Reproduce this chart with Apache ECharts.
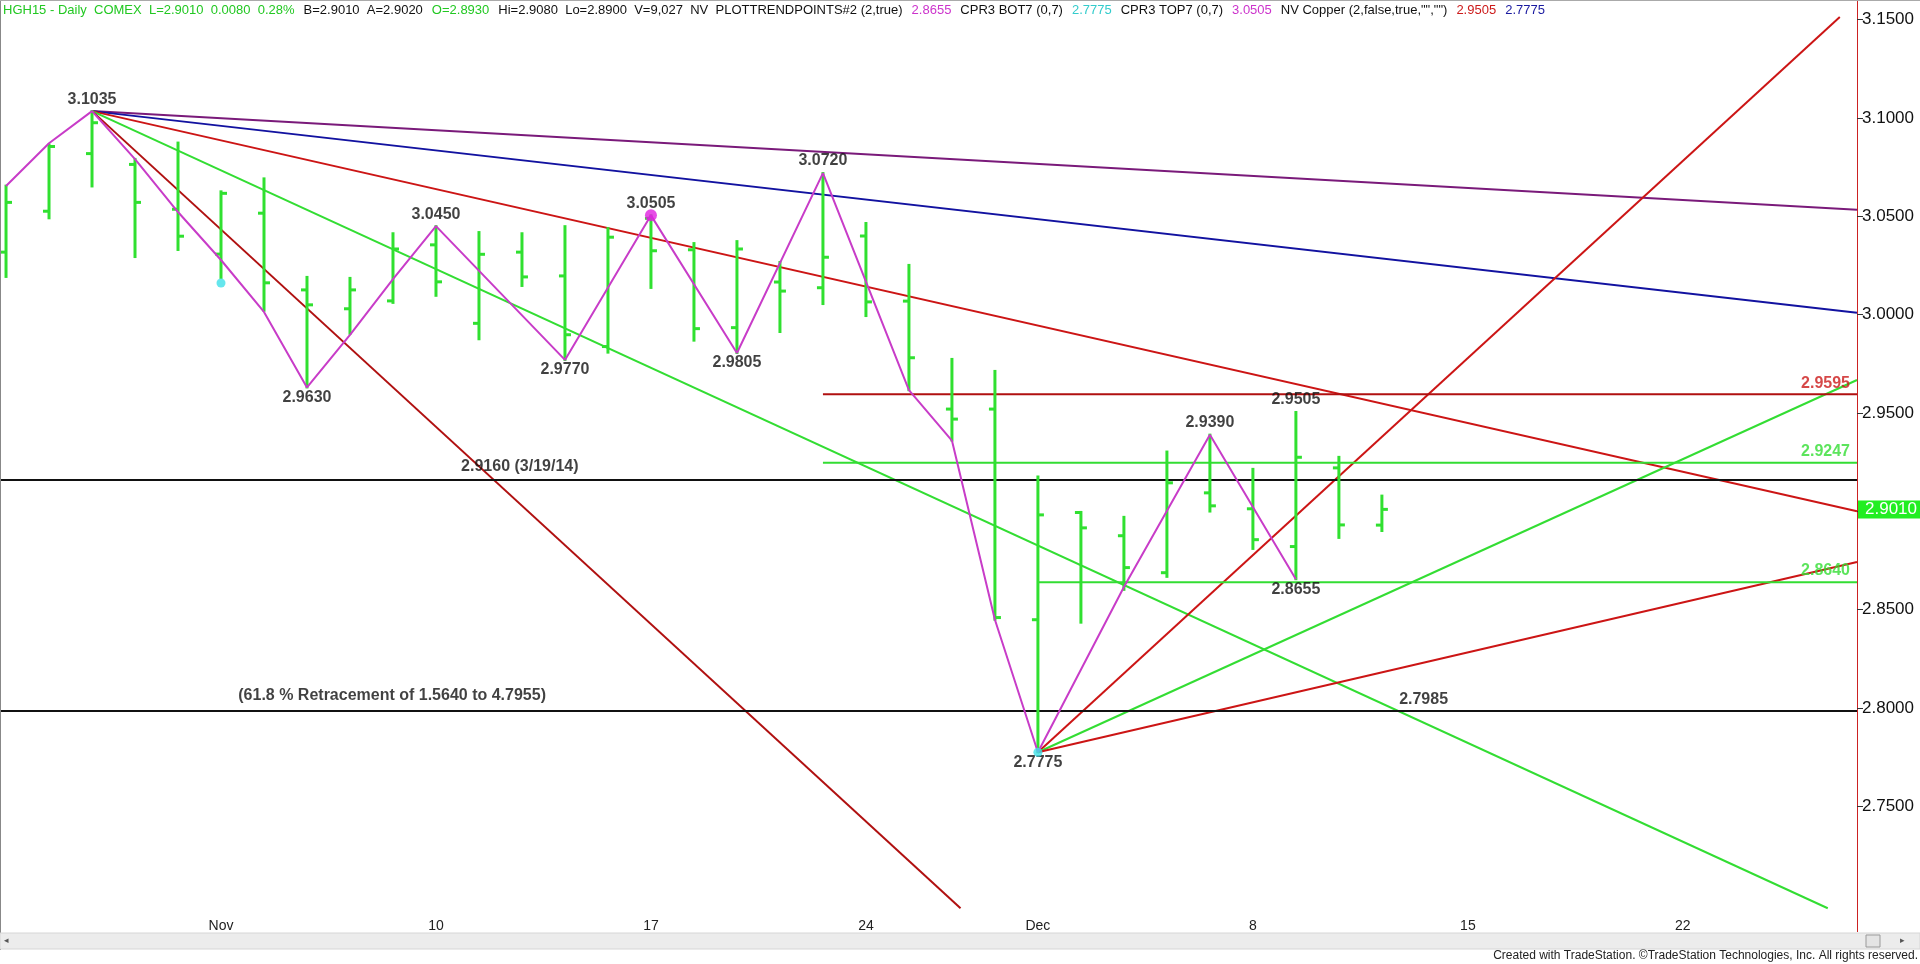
<!DOCTYPE html>
<html><head><meta charset="utf-8">
<script src="https://cdn.jsdelivr.net/npm/echarts@6/dist/echarts.min.js"></script>
<style>html,body{margin:0;padding:0;background:#fff;overflow:hidden}#c{width:1920px;height:964px}</style>
</head><body><div id="c"></div>
<script>
// ---------- data ----------
const dates = ['10/27','10/28','10/29','10/30','10/31','11/3','11/4','11/5','11/6','11/7','11/10','11/11','11/12','11/13','11/14','11/17','11/18','11/19','11/20','11/21','11/24','11/25','11/26','11/28','12/1','12/2','12/3','12/4','12/5','12/8','12/9','12/10','12/11'];
const opens  = [3.0318,3.0526,3.0819,3.0764,3.0536,3.0308,3.0516,3.0126,3.0030,3.0070,3.0355,2.9956,3.0318,3.0197,2.9838,3.0490,3.0330,2.9934,3.0166,3.0137,3.0400,3.0069,2.9520,2.9520,2.8449,2.8994,2.8876,2.8688,2.9094,2.9013,2.8821,2.9221,2.8930];
const highs  = [3.0656,3.0865,3.1035,3.0792,3.0875,3.0627,3.0693,3.0192,3.0187,3.0414,3.0450,3.0420,3.0414,3.0450,3.0440,3.0505,3.0364,3.0374,3.0268,3.0720,3.0466,3.0253,2.9775,2.9714,2.9177,2.8997,2.8972,2.9304,2.9390,2.9216,2.9505,2.9277,2.9080];
const lows   = [3.0192,3.0490,3.0652,3.0293,3.0329,3.0187,3.0020,2.9630,2.9903,3.0060,3.0096,2.9875,3.0146,2.9770,2.9807,3.0136,2.9868,2.9805,2.9912,3.0054,2.9993,2.9616,2.9360,2.8449,2.7775,2.8434,2.8601,2.8667,2.8999,2.8809,2.8655,2.8865,2.8900];
const closes = [3.0571,3.0855,3.0976,3.0571,3.0399,3.0617,3.0162,3.0050,3.0126,3.0334,3.0167,3.0307,3.0192,2.9898,3.0394,3.0325,2.9929,3.0334,3.0120,3.0292,3.0065,2.9781,2.9469,2.8460,2.8982,2.8916,2.8714,2.9145,2.9028,2.8856,2.9275,2.8931,2.9010];

const xTickIdx    = [5, 10, 15, 20, 24, 29, 34, 39];
const xTickLabels = ['Nov','10','17','24','Dec','8','15','22'];
const yTicks      = [2.75, 2.80, 2.85, 2.90, 2.95, 3.00, 3.05, 3.10, 3.15];

// zig-zag (PLOTTRENDPOINTS) path [barIndex, price]
const zigzag = [[0,3.0654],[1,3.0872],[2,3.1035],[3,3.0791],[4,3.0522],[5,3.0278],[6,3.0014],[7,2.9630],[8,2.9897],[9,3.0181],[10,3.0450],[13,2.9770],[15,3.0505],[17,2.9805],[19,3.0720],[21,2.9616],[22,2.9360],[23,2.8449],[24,2.7775],[26,2.8615],[28,2.9390],[30,2.8655]];
const swingHighs = [[2,3.1035],[10,3.0450],[15,3.0505],[19,3.0720],[28,2.9390],[30,2.9505]];
const swingLows  = [[7,2.9630],[13,2.9770],[17,2.9805],[24,2.7775],[30,2.8655]];
const cyanDots    = [[5,3.0161],[24,2.7775]];
const magentaDots = [[15,3.0505]];

// trend lines [barIndex, price]
const xLeft = -0.14, xRight = 43.05;
const purpleLine   = [[2,3.1035],[xRight,3.0533]];
const blueLine     = [[2,3.1035],[xRight,3.0010]];
const redFromTop   = [[2,3.1035],[xRight,2.9000]];
const greenFromTop = [[2,3.1035],[42.37,2.6982]];
const steepFromTop = [[2,3.1035],[22.2,2.6982]];
const redUpFromLow = [[24,2.7775],[42.65,3.1513]];
const greenFromLow = [[24,2.7775],[xRight,2.9668]];
const redLowFromLow= [[24,2.7775],[xRight,2.8742]];
// horizontal levels
const level2916 = 2.9160, level7985 = 2.7985;
const level9595 = 2.9595, level9247 = 2.9247, level8640 = 2.8640;
const levelStart9595 = 19, levelStart9247 = 19, levelStart8640 = 24;
const lastClose = 2.9010;

// header pieces [text, colour key]
const header = [
  ['HGH15 - Daily  COMEX  L=2.9010  0.0080  0.28%', 'g'],
  ['B=2.9010  A=2.9020', 'k'],
  ['O=2.8930', 'g'],
  ['Hi=2.9080  Lo=2.8900  V=9,027  NV  PLOTTRENDPOINTS#2 (2,true)', 'k'],
  ['2.8655', 'm'],
  ['CPR3 BOT7 (0,7)', 'k'],
  ['2.7775', 'c'],
  ['CPR3 TOP7 (0,7)', 'k'],
  ['3.0505', 'm'],
  ['NV Copper (2,false,true,"","")', 'k'],
  ['2.9505', 'r'],
  ['2.7775', 'b']
];

// ---------- styles ----------
const BAR = '#30e030', GREEN = '#33dd33', RED = '#cc1515', DRED = '#b01010', PINK = '#c83cc8';
const FONT = '"Liberation Sans", Arial, sans-serif';

const ohlc = dates.map((d, i) => [i, opens[i], highs[i], lows[i], closes[i]]);

function renderOHLC(params, api) {
  const x = api.value(0);
  const o = api.coord([x, api.value(1)]);
  const h = api.coord([x, api.value(2)]);
  const l = api.coord([x, api.value(3)]);
  const c = api.coord([x, api.value(4)]);
  const st = { stroke: BAR, lineWidth: 3 };
  return { type: 'group', children: [
    { type: 'line', shape: { x1: h[0], y1: h[1] - 1, x2: l[0], y2: l[1] + 1 }, style: st },
    { type: 'line', shape: { x1: o[0] - 6, y1: o[1], x2: o[0], y2: o[1] }, style: st },
    { type: 'line', shape: { x1: c[0], y1: c[1], x2: c[0] + 6, y2: c[1] }, style: st }
  ]};
}

function seg(data, color, width) {
  return { type: 'line', data: data, showSymbol: false, symbol: 'none', silent: true, clip: true,
    lineStyle: { color: color, width: width || 2 }, z: 3 };
}
function hline(start, level, color) {
  return seg([[start, level], [xRight, level]], color, 2);
}
const pivotLabel = { fontFamily: FONT, fontWeight: 'bold', fontSize: 16, color: '#111' };

const chart = echarts.init(document.getElementById('c'), null, { renderer: 'canvas' });
const option = {
  animation: false,
  backgroundColor: '#ffffff',
  grid: { left: 0, right: 63, top: 0, bottom: 54 },
  xAxis: {
    type: 'value', min: xLeft, max: xRight,
    splitLine: { show: false }, axisLine: { show: false, onZero: false }, axisTick: { show: false },
    axisLabel: { customValues: xTickIdx, margin: 9, fontFamily: '"Liberation Sans Narrow", "Liberation Sans", Arial', fontSize: 14, color: '#222',
      formatter: v => xTickLabels[xTickIdx.indexOf(Math.round(v))] }
  },
  yAxis: {
    type: 'value', position: 'right', min: 2.6973, max: 3.1600, scale: true,
    splitLine: { show: false },
    axisLine: { show: true, onZero: false, lineStyle: { color: '#cc2222', width: 1 } },
    axisTick: { show: true, customValues: yTicks, length: 6, lineStyle: { color: '#333' } },
    axisLabel: { customValues: yTicks, margin: 5, fontFamily: FONT, fontSize: 17, color: '#111',
      formatter: v => v.toFixed(4) }
  },
  series: [
    seg(purpleLine, '#7a1a7a'),
    seg(blueLine, '#1212a0'),
    seg(redFromTop, RED),
    seg(greenFromTop, GREEN),
    seg(steepFromTop, DRED),
    seg(redUpFromLow, RED),
    seg(greenFromLow, GREEN),
    seg(redLowFromLow, RED),
    hline(xLeft, level2916, '#111'),
    hline(xLeft, level7985, '#111'),
    hline(levelStart9595, level9595, DRED),
    hline(levelStart9247, level9247, GREEN),
    hline(levelStart8640, level8640, GREEN),
    { type: 'custom', renderItem: renderOHLC, data: ohlc, encode: { x: 0, y: [1, 2, 3, 4] }, z: 4, clip: true },
    { type: 'line', data: zigzag, showSymbol: false, symbol: 'none', lineStyle: { color: PINK, width: 2 }, z: 5 },
    { type: 'scatter', data: swingHighs, symbolSize: 0, z: 6,
      label: Object.assign({ show: true, position: 'top', distance: 4, formatter: p => p.value[1].toFixed(4) }, pivotLabel) },
    { type: 'scatter', data: swingLows, symbolSize: 0, z: 6,
      label: Object.assign({ show: true, position: 'bottom', distance: 2, formatter: p => p.value[1].toFixed(4) }, pivotLabel) },
    { type: 'scatter', data: cyanDots, symbolSize: 9, itemStyle: { color: '#3ee0e8' }, z: 7 },
    { type: 'scatter', data: magentaDots, symbolSize: 12, itemStyle: { color: '#e020e0' }, z: 7 },
    // annotations on horizontal levels
    { type: 'scatter', data: [[11.95, level2916]], symbolSize: 0, z: 6,
      label: Object.assign({ show: true, position: 'top', distance: 5, formatter: () => level2916.toFixed(4) + ' (3/19/14)' }, pivotLabel) },
    { type: 'scatter', data: [[8.98, level7985]], symbolSize: 0, z: 6,
      label: Object.assign({ show: true, position: 'top', distance: 7, formatter: () => '(61.8 % Retracement of 1.5640 to 4.7955)' }, pivotLabel) },
    { type: 'scatter', data: [[32.97, level7985]], symbolSize: 0, z: 6,
      label: Object.assign({ show: true, position: 'top', distance: 3, formatter: () => level7985.toFixed(4) }, pivotLabel) },
    { type: 'scatter', data: [[xRight, level9595]], symbolSize: 0, z: 6,
      label: Object.assign({}, pivotLabel, { show: true, position: 'insideRight', offset: [-2, -11], color: '#cc1a1a', formatter: () => level9595.toFixed(4) }) },
    { type: 'scatter', data: [[xRight, level9247]], symbolSize: 0, z: 6,
      label: Object.assign({}, pivotLabel, { show: true, position: 'insideRight', offset: [-2, -11], color: '#33dd33', formatter: () => level9247.toFixed(4) }) },
    { type: 'scatter', data: [[xRight, level8640]], symbolSize: 0, z: 6,
      label: Object.assign({}, pivotLabel, { show: true, position: 'insideRight', offset: [-2, -12], color: '#33dd33', formatter: () => level8640.toFixed(4) }) }
  ]
};
chart.setOption(option);

// header and frame graphics
const hdrColors = { g: '#22c822', k: '#111111', m: '#cc33cc', c: '#33cccc', r: '#cc1a1a', b: '#1a1aa0' };
const hdrRich = { s: { width: 9, font: '13px "Liberation Sans", Arial, sans-serif' } };
Object.keys(hdrColors).forEach(k => { hdrRich[k] = { fill: hdrColors[k], font: '13px "Liberation Sans", Arial, sans-serif' }; });
const hdrText = header.map(h => '{' + h[1] + '|' + h[0] + '}').join('{s| }');

const yPx = chart.convertToPixel({ yAxisIndex: 0 }, lastClose);
const axisX = 1920 - 63;
const g = [];
g.push({ type: 'text', left: 3, top: 4, z: 100, style: { text: hdrText, rich: hdrRich, font: '13px "Liberation Sans", Arial, sans-serif' } });
g.push({ type: 'rect', shape: { x: axisX + 1, y: yPx - 9, width: 63, height: 18 }, style: { fill: '#22ee22' }, z: 100 });
g.push({ type: 'text', x: axisX + 8, y: yPx, z: 101, style: { text: lastClose.toFixed(4), fill: '#ffffff', font: '17px "Liberation Sans", Arial', textVerticalAlign: 'middle' } });
g.push({ type: 'line', shape: { x1: axisX + 0.5, y1: 905, x2: axisX + 0.5, y2: 932 }, style: { stroke: '#cc2222', lineWidth: 1 }, z: 100 });
g.push({ type: 'line', shape: { x1: 0.5, y1: 0, x2: 0.5, y2: 950 }, style: { stroke: '#888', lineWidth: 1 }, z: 100 });
g.push({ type: 'line', shape: { x1: 0, y1: 0.5, x2: 1920, y2: 0.5 }, style: { stroke: '#aaa', lineWidth: 1 }, z: 100 });
g.push({ type: 'rect', shape: { x: 0, y: 933, width: 1920, height: 16 }, style: { fill: '#ececec', stroke: '#d6d6d6', lineWidth: 1 }, z: 100 });
g.push({ type: 'text', x: 4, y: 941, z: 101, style: { text: '◂', fill: '#555', font: '9px "DejaVu Sans"', textVerticalAlign: 'middle' } });
g.push({ type: 'rect', shape: { x: 1866, y: 935, width: 14, height: 12 }, style: { fill: '#e4e4e4', stroke: '#9a9a9a', lineWidth: 1 }, z: 101 });
g.push({ type: 'text', x: 1900, y: 941, z: 101, style: { text: '▸', fill: '#555', font: '9px "DejaVu Sans"', textVerticalAlign: 'middle' } });
g.push({ type: 'text', right: 2, top: 950, z: 101, style: { text: 'Created with TradeStation. ©TradeStation Technologies, Inc. All rights reserved.', fill: '#222', font: '12px "Liberation Sans Narrow", "Liberation Sans", Arial' } });
chart.setOption({ graphic: g });
</script>
</body></html>
